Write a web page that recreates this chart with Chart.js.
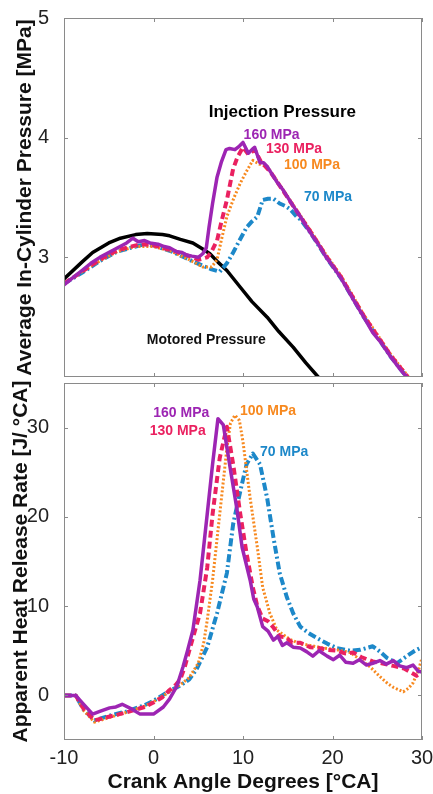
<!DOCTYPE html>
<html>
<head>
<meta charset="utf-8">
<script src="https://cdn.jsdelivr.net/npm/chart.js@4.4.1/dist/chart.umd.min.js"></script>
<style>
  body { margin: 0; background: #fff; }
  canvas { position: absolute; left: 0; }
  #top { top: 0; }
  #bottom { top: 380px; }
</style>
</head>
<body>
<canvas id="top" width="433" height="380"></canvas>
<canvas id="bottom" width="433" height="414"></canvas>
<script>
// crank angle ticks and value ticks
const angleTicks = [-10, 0, 10, 20, 30];
const pressureTicks = [3, 4, 5];
const hrrTicks = [0, 10, 20, 30];

// in-cylinder pressure [CA, MPa]
const motoredP = [[-10,2.82],[-8,2.96],[-6.8,3.04],[-5,3.12],[-3.7,3.16],[-2,3.19],[-0.7,3.20],[1,3.19],[1.8,3.18],[3,3.15],[4.4,3.12],[5.5,3.07],[6.3,3.03],[7.2,2.96],[8.2,2.89],[9.7,2.75],[11,2.63],[12.7,2.50],[14,2.38],[15.6,2.25],[17,2.12],[18.4,2.0],[19,1.95]];
const p160 = [[-10,2.77],[-9,2.83],[-8,2.89],[-7,2.95],[-6,3.00],[-5,3.04],[-4,3.08],[-3,3.12],[-2.3,3.16],[-1.7,3.13],[-1,3.14],[-0.4,3.12],[0.5,3.11],[1.2,3.09],[1.8,3.08],[2.5,3.05],[3.2,3.04],[3.7,3.02],[4.3,3.01],[5.0,3.00],[5.5,3.03],[5.9,3.08],[6.2,3.25],[6.6,3.45],[7.1,3.67],[7.6,3.80],[8.1,3.90],[8.5,3.91],[9.1,3.90],[9.6,3.93],[10.0,3.96],[10.6,3.87],[11.0,3.90],[11.3,3.92],[11.9,3.79],[12.3,3.79],[12.7,3.76],[13.2,3.70],[13.8,3.63],[14.5,3.56],[15.6,3.43],[16.5,3.33],[17.5,3.21],[18.5,3.10],[19.3,3.00],[20.1,2.92],[21,2.82],[22.3,2.65],[23.5,2.50],[24.5,2.37],[25.5,2.28],[26.5,2.17],[27.5,2.07],[28.3,2.0],[30,1.82]];
const p130 = [[-10,2.78],[-8,2.88],[-6,2.98],[-4,3.06],[-2,3.10],[-1,3.11],[0,3.10],[2,3.06],[4,3.01],[5,2.98],[6,3.00],[6.5,3.05],[7.1,3.14],[7.6,3.30],[8.2,3.48],[8.9,3.74],[9.4,3.84],[10,3.92],[10.6,3.86],[11.3,3.90],[12,3.80],[13,3.72],[14,3.61],[15.6,3.43],[17.5,3.22],[19.3,3.01],[21,2.83],[23.5,2.51],[26.5,2.18],[28.3,2.01],[30,1.83]];
const p100 = [[-10,2.78],[-8,2.88],[-6,2.97],[-4,3.05],[-2,3.09],[0,3.09],[2,3.05],[4,2.98],[5.5,2.92],[6.5,2.92],[7.1,2.98],[7.6,3.15],[8.2,3.34],[9,3.50],[9.7,3.62],[10.4,3.72],[11.1,3.81],[11.8,3.78],[12.7,3.76],[13.8,3.64],[15.6,3.44],[17.5,3.23],[19.3,3.02],[21,2.84],[23.5,2.52],[26.5,2.19],[28.3,2.02],[30,1.84]];
const p70 = [[-10,2.78],[-8,2.87],[-6,2.97],[-4,3.05],[-2,3.09],[-1,3.11],[0,3.10],[2,3.05],[4,2.98],[5.5,2.93],[6.5,2.90],[7.4,2.88],[8.2,2.95],[8.9,3.04],[9.6,3.14],[10.4,3.25],[11.0,3.30],[11.6,3.34],[12.2,3.48],[12.8,3.49],[13.4,3.49],[14.1,3.45],[14.7,3.43],[15.3,3.40],[16,3.34],[16.5,3.31],[17.5,3.21],[19.3,3.00],[21,2.82],[23.5,2.50],[26.5,2.17],[28.3,2.0],[30,1.82]];

// apparent heat release rate [CA, J/CA]
const hrr160 = [[-10,0],[-8.7,0],[-7.8,-1.0],[-6.8,-2.1],[-6,-1.8],[-4.9,-1.4],[-4.2,-1.3],[-3.5,-1.0],[-2.3,-1.6],[-1.5,-2.1],[0,-2.1],[1.1,-1.3],[1.8,-0.4],[2.6,1.0],[3.3,3.2],[3.8,5.0],[4.4,7.3],[5.2,12.9],[6.0,20.3],[6.6,25.9],[7.2,31.0],[7.8,30.3],[8.5,25.9],[9.3,21.0],[9.9,16.6],[10.8,12.9],[11.2,10.8],[11.6,9.9],[12.2,7.7],[12.8,7.2],[13.4,6.2],[13.9,6.6],[14.4,5.6],[14.9,5.9],[15.6,5.4],[16.4,5.3],[17.1,4.9],[17.8,4.4],[18.5,5.0],[19.4,4.4],[20.1,4.0],[20.8,4.5],[21.5,3.7],[22.3,3.6],[23.0,4.0],[23.8,3.4],[24.5,3.6],[25.3,3.9],[26.0,3.5],[26.8,3.9],[27.5,3.3],[28.3,3.1],[29.0,3.4],[29.6,2.7],[30,2.6]];
const hrr130 = [[-10,0],[-8.7,0],[-7.8,-1.5],[-6.6,-2.8],[-5,-2.4],[-3,-1.9],[-1,-1.3],[0,-0.8],[1,-0.2],[1.8,0.6],[2.5,1.2],[3.0,1.8],[3.5,3.2],[4.1,5.4],[5.2,9.2],[6.0,14.3],[6.6,20.3],[7.4,26.6],[8.2,30.1],[8.9,25.9],[9.7,20.3],[10.4,15.9],[11.1,12.1],[11.6,10.0],[12.2,8.6],[12.8,8.3],[13.4,7.6],[14.1,6.6],[14.8,6.5],[15.5,5.9],[16.4,5.9],[17.5,5.4],[18.5,5.3],[19.4,5.1],[20.5,5.0],[21.4,4.7],[22.3,4.8],[23.2,4.3],[24.5,3.8],[25.5,3.6],[26.8,3.3],[28,3.0],[29.4,2.2],[30,2.5]];
const hrr100 = [[-10,0],[-8.7,0],[-7.8,-1.7],[-6.6,-3.0],[-5,-2.5],[-3,-1.9],[-1,-1.2],[0,-0.7],[1.8,0.4],[3,1.2],[4,2.0],[5,3.6],[5.6,5.8],[6.0,8.4],[6.6,12.9],[7.4,20.3],[8.2,27.7],[8.6,30.5],[9.1,31.4],[9.6,30.8],[10.0,28.4],[10.8,22.1],[11.6,16.6],[12.2,12.1],[13.0,9.2],[13.8,7.3],[14.5,6.8],[15.2,6.3],[16.3,5.8],[17.5,5.6],[19,5.3],[20.5,5.1],[22,4.8],[23.1,4.0],[24.2,3.2],[25.3,2.1],[26.2,1.3],[26.8,0.9],[27.9,0.4],[28.5,0.8],[29.0,1.4],[29.6,2.8],[30,4.2]];
const hrr70 = [[-10,0],[-8.7,0],[-7.8,-1.6],[-6.6,-2.8],[-5,-2.3],[-3,-1.8],[-1,-1.1],[0,-0.6],[1.8,0.5],[3,1.1],[4,1.8],[4.8,2.9],[6.0,5.4],[7.1,9.2],[8.2,13.7],[8.9,19.2],[9.7,22.9],[10.4,25.9],[11.1,27.1],[11.9,25.9],[12.7,22.1],[13.4,17.7],[14.1,13.7],[14.9,11.0],[15.6,9.2],[16.4,7.7],[17.3,7.0],[18.3,6.4],[19.4,5.8],[20.5,5.3],[22,5.0],[23.1,5.1],[24.5,5.5],[25.3,4.9],[26.1,4.2],[27.2,3.6],[28.3,4.4],[29.2,5.0],[30,5.4]];

const purple = '#9d25b3', red = '#ea2160', orange = '#f7891f', blue = '#1d88c9';
const family = '"Liberation Sans", Arial, sans-serif';

const line = (data, color, width, dash) => ({
  data: data,
  borderColor: color,
  borderWidth: width,
  borderDash: dash,
  pointRadius: 0,
  tension: 0,
  fill: false,
  borderJoinStyle: 'round'
});

// box, inward ticks and text notes
const frame = {
  id: 'frame',
  afterDatasetsDraw(chart, args, opts) {
    const ctx = chart.ctx;
    const a = chart.chartArea;
    const x = chart.scales.x;
    const y = chart.scales.y;
    ctx.save();
    ctx.strokeStyle = '#8a8a8a';
    ctx.lineWidth = 1;
    ctx.strokeRect(a.left + 0.5, a.top + 0.5, a.right - a.left - 1, a.bottom - a.top - 1);
    ctx.beginPath();
    angleTicks.forEach(v => {
      const px = Math.round(x.getPixelForValue(v)) + 0.5;
      ctx.moveTo(px, a.top); ctx.lineTo(px, a.top + 4);
      ctx.moveTo(px, a.bottom); ctx.lineTo(px, a.bottom - 4);
    });
    opts.yTicks.forEach(v => {
      const py = Math.round(y.getPixelForValue(v)) + 0.5;
      ctx.moveTo(a.left, py); ctx.lineTo(a.left + 4, py);
      ctx.moveTo(a.right, py); ctx.lineTo(a.right - 4, py);
    });
    ctx.stroke();
    ctx.textAlign = 'center';
    ctx.textBaseline = 'middle';
    opts.notes.forEach(n => {
      ctx.fillStyle = n.color;
      ctx.font = 'bold ' + n.size + 'px ' + family;
      ctx.fillText(n.text, x.getPixelForValue(n.x), y.getPixelForValue(n.y));
    });
    ctx.restore();
  }
};

const tickFont = { family: family, size: 20 };
const titleFont = { family: family, size: 21, weight: 'bold', lineHeight: 1 };

new Chart(document.getElementById('top').getContext('2d'), {
  type: 'line',
  data: {
    datasets: [
      line(p160, purple, 3.5, []),
      line(p130, red, 4, [7, 4]),
      line(p100, orange, 3, [2, 2]),
      line(p70, blue, 4, [8, 3, 2, 3]),
      line(motoredP, '#000', 3.5, [])
    ]
  },
  options: {
    responsive: false,
    animation: false,
    layout: { padding: { top: 18, right: 11, bottom: 3, left: 0 } },
    plugins: {
      legend: { display: false },
      tooltip: { enabled: false },
      frame: {
        yTicks: pressureTicks,
        notes: [
          { text: 'Injection Pressure', x: 14.4, y: 4.21, color: '#000', size: 17 },
          { text: '160 MPa', x: 13.2, y: 4.02, color: purple, size: 14 },
          { text: '130 MPa', x: 15.7, y: 3.90, color: red, size: 14 },
          { text: '100 MPa', x: 17.7, y: 3.77, color: orange, size: 14 },
          { text: '70 MPa', x: 19.5, y: 3.50, color: blue, size: 14 },
          { text: 'Motored Pressure', x: 5.9, y: 2.31, color: '#111', size: 14 }
        ]
      }
    },
    scales: {
      x: { type: 'linear', min: -10, max: 30, display: false },
      y: {
        min: 2, max: 5,
        afterBuildTicks: s => { s.ticks = pressureTicks.map(v => ({ value: v })); },
        afterFit: s => { s.width = 64; s.paddingTop = 0; s.paddingBottom = 0; },
        grid: { display: false },
        border: { display: false },
        ticks: { padding: 7, font: tickFont, color: '#222' },
        title: { display: true, text: 'Average In-Cylinder Pressure [MPa]', font: titleFont, color: '#111', padding: { top: 15, bottom: 0 } }
      }
    }
  },
  plugins: [frame]
});

new Chart(document.getElementById('bottom').getContext('2d'), {
  type: 'line',
  data: {
    datasets: [
      line(hrr160, purple, 3.5, []),
      line(hrr130, red, 4, [7, 4]),
      line(hrr100, orange, 3, [2, 2]),
      line(hrr70, blue, 4, [8, 3, 2, 3])
    ]
  },
  options: {
    responsive: false,
    animation: false,
    layout: { padding: { top: 3, right: 11, bottom: 0, left: 0 } },
    plugins: {
      legend: { display: false },
      tooltip: { enabled: false },
      frame: {
        yTicks: hrrTicks,
        notes: [
          { text: '160 MPa', x: 3.1, y: 31.6, color: purple, size: 14 },
          { text: '130 MPa', x: 2.7, y: 29.6, color: red, size: 14 },
          { text: '100 MPa', x: 12.8, y: 31.8, color: orange, size: 14 },
          { text: '70 MPa', x: 14.6, y: 27.2, color: blue, size: 14 }
        ]
      }
    },
    scales: {
      x: {
        type: 'linear', min: -10, max: 30,
        afterBuildTicks: s => { s.ticks = angleTicks.map(v => ({ value: v })); },
        afterFit: s => { s.height = 54; s.paddingLeft = 0; s.paddingRight = 0; },
        grid: { display: false },
        border: { display: false },
        ticks: { padding: -2, font: tickFont, color: '#222', maxRotation: 0 },
        title: { display: true, text: 'Crank Angle Degrees [°CA]', font: titleFont, color: '#111', padding: { top: 0, bottom: 1 } }
      },
      y: {
        min: -5, max: 35,
        afterBuildTicks: s => { s.ticks = hrrTicks.map(v => ({ value: v })); },
        afterFit: s => { s.width = 64; s.paddingTop = 0; s.paddingBottom = 0; },
        grid: { display: false },
        border: { display: false },
        ticks: { padding: 7, font: tickFont, color: '#222' },
        title: { display: true, text: 'Apparent Heat Release Rate [J/ °CA]', font: titleFont, color: '#111', padding: { top: 11, bottom: 0 } }
      }
    }
  },
  plugins: [frame]
});
</script>
</body>
</html>
